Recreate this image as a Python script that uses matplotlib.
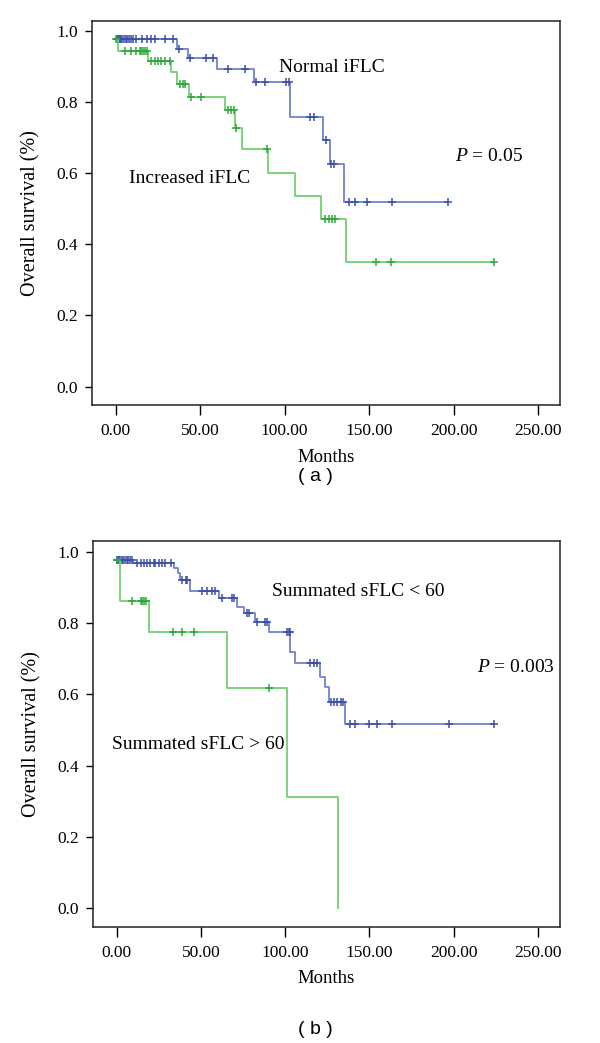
# -*- coding: utf-8 -*-
import numpy as np
import matplotlib
matplotlib.use('Agg')
import matplotlib.pyplot as plt
from matplotlib.ticker import FormatStrFormatter

plt.rcParams['font.family'] = ['Liberation Serif', 'DejaVu Serif']
plt.rcParams['mathtext.fontset'] = 'custom'
plt.rcParams['mathtext.rm'] = 'Liberation Serif'
plt.rcParams['mathtext.it'] = 'Liberation Serif:italic'

# ---- panel (a): iFLC ----
normal_times = [0, 36.3, 42.8, 60.2, 82.0, 103.4, 122.8, 126.8, 135.0, 196.8]
normal_surv = [0.977, 0.951, 0.926, 0.895, 0.858, 0.758, 0.694, 0.626, 0.520, 0.520]
normal_censor = [1, 1.5, 2, 2.5, 3, 4, 5, 6, 7, 8, 9, 10, 12.2, 15.8, 18.5, 21.1, 23.1,
                 29, 34, 37.5, 43.8, 53.7, 57.7, 66.5, 76.8, 83.3, 88.7, 100.7, 102.6,
                 115, 117.2, 124.8, 127.5, 129.5, 138.2, 141.6, 148.9, 163.6, 196.8]

increased_times = [0, 1.5, 19.0, 33.0, 36.3, 43.3, 65.0, 70.5, 74.5, 90.2, 106.0, 121.5, 136.6, 224.0]
increased_surv = [0.977, 0.944, 0.917, 0.886, 0.853, 0.815, 0.778, 0.727, 0.669, 0.602,
                  0.535, 0.471, 0.351, 0.351]
increased_censor = [0.3, 5.3, 9.3, 12.2, 14.2, 15.2, 16.1, 17.2, 18.5, 21.1, 23.1, 25, 27,
                    29, 32, 37.9, 39.9, 40.9, 44.8, 50.7, 66.5, 68.5, 69.9, 71.0, 89.5,
                    124, 126, 128, 130, 154, 162.9, 224]

# ---- panel (b): summated sFLC ----
low_times = [0, 9.8, 34.0, 36.3, 37.9, 43.4, 60.6, 71.5, 75.4, 82.3, 90.2, 103.1, 106.0,
             120.8, 123.8, 125.8, 135.7, 224.0]
low_surv = [0.976, 0.968, 0.954, 0.940, 0.921, 0.890, 0.870, 0.846, 0.828, 0.804, 0.776,
            0.720, 0.687, 0.650, 0.622, 0.579, 0.517, 0.517]
low_censor = [0.5, 1, 1.5, 2, 3, 4, 5, 6, 7, 8, 9, 12.2, 14.2, 16.1, 18.1, 20.1, 22, 23,
              25, 27, 29, 32, 38.9, 40.9, 41.8, 50.7, 53.7, 56.7, 58.6, 62.6, 68.5, 69.5,
              77.4, 78.4, 83.3, 88.3, 89.3, 101, 102, 103, 115, 117, 118.8, 127, 129, 131,
              133, 134.5, 138.6, 141.6, 149.5, 154.4, 163.3, 196.9, 224]

high_times = [0, 2.0, 19.5, 65.2, 101.0, 131.5]
high_surv = [0.976, 0.862, 0.774, 0.619, 0.312, 0.0]
high_censor = [0.3, 9.3, 14.2, 15.2, 16.1, 17.2, 33.6, 38.9, 45.8, 90.2]

x_ticks = [0, 50, 100, 150, 200, 250]
y_ticks = [0.0, 0.2, 0.4, 0.6, 0.8, 1.0]

BLUE_LINE = '#7083cc'
BLUE_MARK = '#3c50a8'
GREEN_LINE = '#72d072'
GREEN_MARK = '#2fa83a'


def survAt(times, surv, t):
    i = np.searchsorted(times, t, side='right') - 1
    return np.asarray(surv)[i]


def drawCurve(ax, times, surv, censor, line_color, mark_color):
    ax.step(times, surv, where='post', color=line_color, linewidth=1.3)
    cy = [survAt(times, surv, c) for c in censor]
    ax.plot(censor, cy, linestyle='none', marker='+', markersize=6,
            markeredgewidth=1.1, color=mark_color)


def setupAxes(ax):
    ax.set_xlim(-14, 263)
    ax.set_ylim(-0.052, 1.03)
    ax.set_xticks(x_ticks)
    ax.set_yticks(y_ticks)
    ax.xaxis.set_major_formatter(FormatStrFormatter('%.2f'))
    ax.yaxis.set_major_formatter(FormatStrFormatter('%.1f'))
    ax.tick_params(axis='x', direction='out', length=7, width=1, pad=6, labelsize=12.5)
    ax.tick_params(axis='y', direction='out', length=5, width=1, pad=5, labelsize=12.5)
    for s in ax.spines.values():
        s.set_linewidth(1.1)
        s.set_color('#222222')
    ax.set_xlabel('Months', fontsize=13.5)
    ax.set_ylabel('Overall survival (%)', fontsize=14.5)
    ax.yaxis.set_label_coords(-0.11, 0.5)
    return


fig = plt.figure(figsize=(6, 10.43), dpi=100)

ax1 = fig.add_axes([0.1533, 0.6117, 0.78, 0.3685])
drawCurve(ax1, normal_times, normal_surv, normal_censor, BLUE_LINE, BLUE_MARK)
drawCurve(ax1, increased_times, increased_surv, increased_censor, GREEN_LINE, GREEN_MARK)
setupAxes(ax1)
ax1.xaxis.set_label_coords(0.5, -0.115)
ax1.text(96.7, 0.886, 'Normal iFLC', fontsize=14, va='baseline')
ax1.text(7.9, 0.572, 'Increased iFLC', fontsize=14, va='baseline')
ax1.text(200.8, 0.635, r'$\it{P}$ = 0.05', fontsize=14, va='baseline')

ax2 = fig.add_axes([0.155, 0.1112, 0.7783, 0.3701])
drawCurve(ax2, low_times, low_surv, low_censor, BLUE_LINE, BLUE_MARK)
drawCurve(ax2, high_times, high_surv, high_censor, GREEN_LINE, GREEN_MARK)
setupAxes(ax2)
ax2.xaxis.set_label_coords(0.5, -0.112)
ax2.text(92.2, 0.876, 'Summated sFLC < 60', fontsize=14, va='baseline')
ax2.text(-2.5, 0.446, 'Summated sFLC > 60', fontsize=14, va='baseline')
ax2.text(213.7, 0.662, r'$\it{P}$ = 0.003', fontsize=14, va='baseline')

fig.text(0.525, 0.5427, '( a )', ha='center', va='center', fontsize=14,
         family=['Liberation Sans', 'DejaVu Sans'])
fig.text(0.525, 0.0134, '( b )', ha='center', va='center', fontsize=14,
         family=['Liberation Sans', 'DejaVu Sans'])

fig.savefig('out.png', dpi=100)
